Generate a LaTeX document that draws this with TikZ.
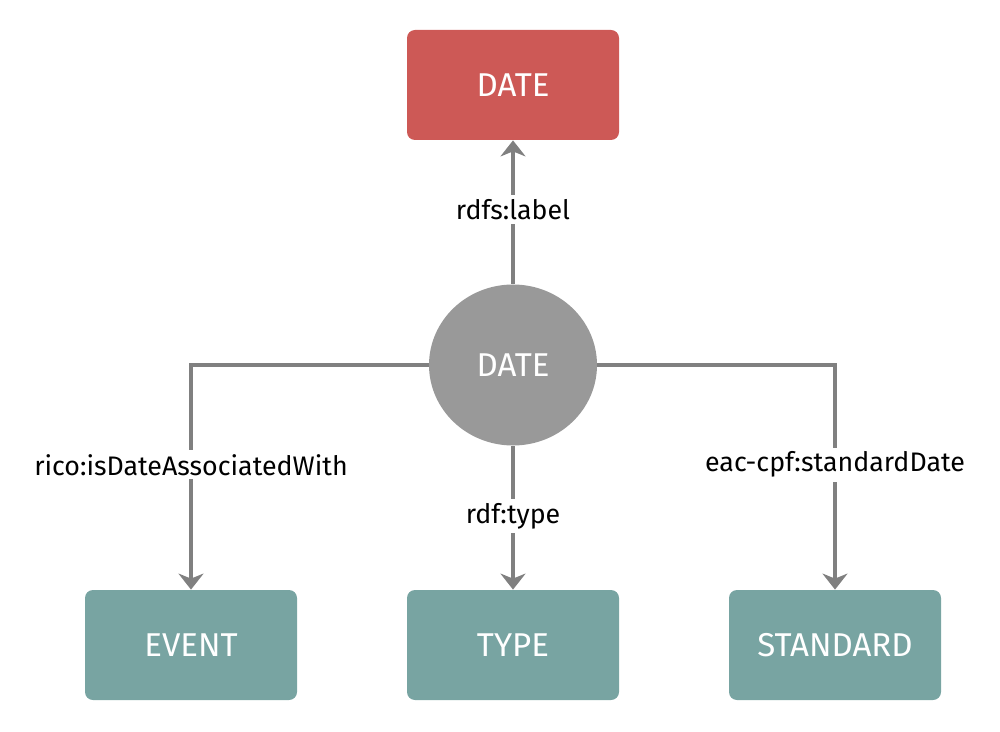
\documentclass[tikz,border=0pt]{standalone}
\usepackage{fontspec}
\setmainfont{Fira Sans}
\usetikzlibrary{arrows.meta,shapes.geometric}

\definecolor{datered}{HTML}{CD5956}
\definecolor{classteal}{HTML}{78A4A2}
\definecolor{nodegray}{HTML}{999999}
\definecolor{linegray}{HTML}{808080}

\begin{document}
\begin{tikzpicture}[
    x=0.5pt, y=-0.5pt,
    box/.style={rectangle, rounded corners=4pt, fill=#1, text=white,
                minimum width=106pt, minimum height=55pt, font=\fontsize{16.5}{18}\selectfont},
    res/.style={ellipse, fill=nodegray, text=white, inner sep=0pt,
                minimum width=84pt, minimum height=80.5pt, font=\fontsize{16.5}{18}\selectfont},
    lbl/.style={fill=white, text=black, inner sep=2pt, font=\fontsize{13.4}{15}\selectfont},
    arrow/.style={-{Stealth[length=8pt, width=12.5pt, inset=2.5pt]}, line width=2pt, draw=linegray}
]
\useasboundingbox (0,0) rectangle (1000,732);
\node[box=datered] (label) at (513,85) {DATE};
\node[res] (date) at (513,365) {DATE};
\node[box=classteal] (event) at (191,645) {EVENT};
\node[box=classteal] (type) at (513,645) {TYPE};
\node[box=classteal] (standard) at (835,645) {STANDARD};

\draw[arrow] (date) -- node[lbl, pos=0.52] {rdfs:label} (label);
\draw[arrow] (date.west) -| node[lbl, pos=0.722] {rico:isDateAssociatedWith} (event.north);
\draw[arrow] (date) -- node[lbl, pos=0.49] {rdf:type} (type);
\draw[arrow] (date.east) -| node[lbl, pos=0.722] {eac-cpf:standardDate} (standard.north);
\end{tikzpicture}
\end{document}
